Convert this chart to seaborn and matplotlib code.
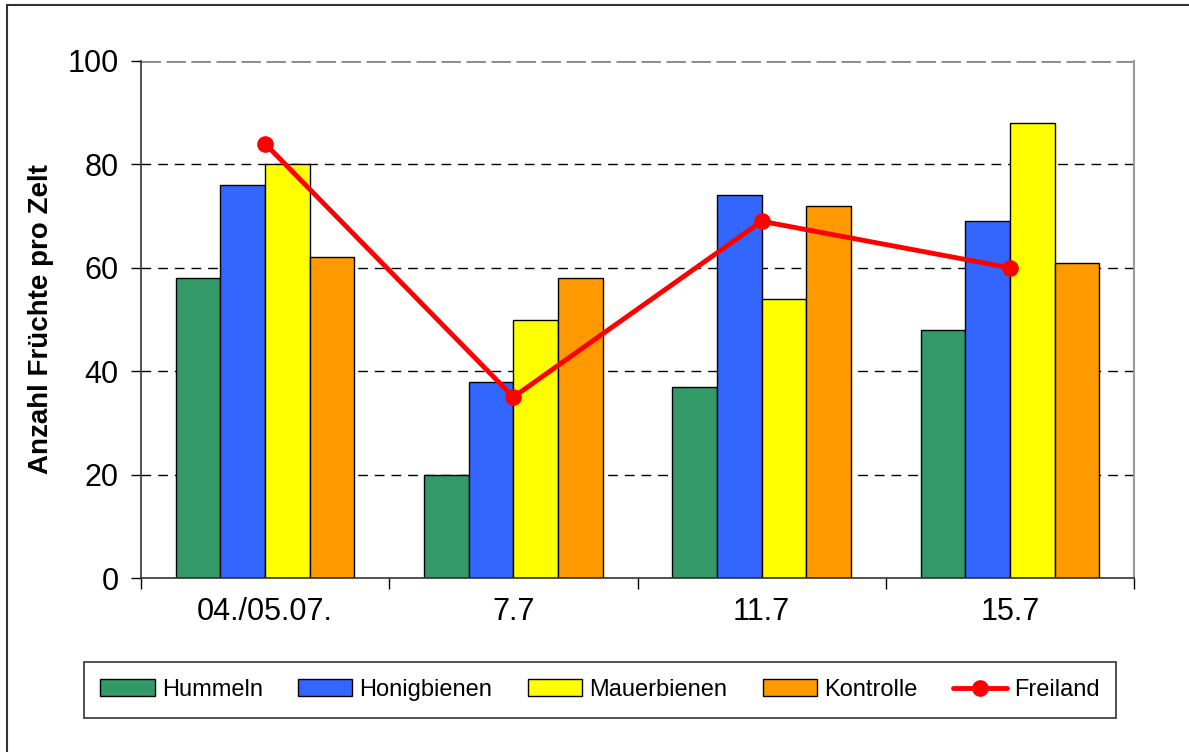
import numpy as np
import pandas as pd
import matplotlib
matplotlib.use("Agg")
import matplotlib.pyplot as plt
import matplotlib.patches as mpatches
import seaborn as sns

# data
dates = ["04./05.07.", "7.7", "11.7", "15.7"]
hummeln = [58, 20, 37, 48]
honigbienen = [76, 38, 74, 69]
mauerbienen = [80, 50, 54, 88]
kontrolle = [62, 58, 72, 61]
freiland = [84, 35, 69, 60]

groups = ["Hummeln", "Honigbienen", "Mauerbienen", "Kontrolle"]
colors = {"Hummeln": "#339966", "Honigbienen": "#3366FF",
          "Mauerbienen": "#FFFF00", "Kontrolle": "#FF9900"}

df = pd.DataFrame({
    "Datum": dates * 4,
    "Gruppe": [g for g in groups for _ in dates],
    "Wert": hummeln + honigbienen + mauerbienen + kontrolle,
})

sns.set_style("white")
plt.rcParams["font.family"] = ["Liberation Sans", "DejaVu Sans"]
plt.rcParams["text.color"] = "black"
plt.rcParams["xtick.color"] = "black"
plt.rcParams["ytick.color"] = "black"
plt.rcParams["axes.labelcolor"] = "black"

fig = plt.figure(figsize=(11.89, 7.52), dpi=100)
ax = fig.add_axes([141/1189, 1-578/752, (1134-141)/1189, (578-61)/752])

sns.barplot(data=df, x="Datum", y="Wert", hue="Gruppe", hue_order=groups,
            order=dates, palette=colors, width=0.72, gap=0,
            edgecolor="black", linewidth=1, saturation=1, ax=ax)
sns.lineplot(x=np.arange(len(dates)), y=freiland, color="#FF0000",
             linewidth=3.5, marker="o", markersize=12, markeredgewidth=0,
             label="Freiland", ax=ax)

ax.set_xlim(-0.5, len(dates) - 0.5)
ax.set_ylim(0, 100)
ax.set_yticks(range(0, 101, 20))
ax.tick_params(axis="y", which="major", length=7, width=1, labelsize=22,
               pad=9, left=True)
ax.tick_params(axis="x", which="major", length=0, labelsize=22, pad=14)
ax.set_xticks(np.arange(-0.5, len(dates), 1), minor=True)
ax.tick_params(axis="x", which="minor", length=8, width=1, bottom=True)
ax.set_xlabel("")
ax.set_ylabel("Anzahl Früchte pro Zelt", fontsize=20, fontweight="bold",
              labelpad=10)

for y in [20, 40, 60, 80]:
    ax.axhline(y, color="black", lw=1, ls=(0, (7, 5)), zorder=0)
ax.axhline(100, color="#888888", lw=2, ls=(0, (7, 2)), zorder=0)

ax.spines["top"].set_visible(False)
ax.spines["right"].set_color("#999999")
ax.spines["right"].set_linewidth(1.5)
ax.spines["left"].set_color("#333333")
ax.spines["bottom"].set_color("#333333")
for s in ["left", "bottom"]:
    ax.spines[s].set_linewidth(1.2)

handles, labels = ax.get_legend_handles_labels()
ax.get_legend().remove()
leg = fig.legend(handles, labels, ncol=5, mode="expand",
                 bbox_to_anchor=(72/1189, 1-724/752, 1056/1189, 68/752),
                 loc="center", fontsize=17, frameon=True, fancybox=False,
                 edgecolor="black", handlelength=2.3, handleheight=0.75,
                 handletextpad=0.3, borderpad=0.7, columnspacing=1.5)
leg.get_frame().set_linewidth(1.2)

fig.patches.append(mpatches.Rectangle((7/1189, -0.02), 1.0, 1-5/752+0.02,
                                      transform=fig.transFigure, fill=False,
                                      edgecolor="#333333", lw=1.5))

fig.savefig("out.png", dpi=100)
